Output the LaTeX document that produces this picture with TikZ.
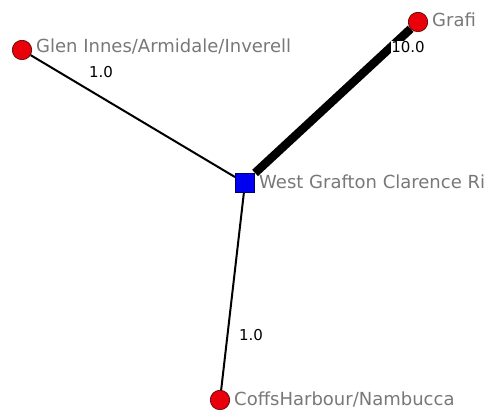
\documentclass[tikz,border=0pt]{standalone}
\usepackage{fontspec}
\setmainfont{DejaVu Sans}
\definecolor{lblgray}{HTML}{787878}
\definecolor{nodered}{HTML}{E8000A}
\definecolor{nodeblue}{HTML}{0000F0}
\tikzset{
  place/.style={circle, fill=nodered, draw=black!70!red, line width=0.6pt, minimum size=19.5pt, inner sep=0pt},
  hub/.style={rectangle, fill=nodeblue, draw=black!60!blue, line width=0.6pt, minimum size=19.5pt, inner sep=0pt},
  lbl/.style={anchor=west, text=lblgray, font=\fontsize{18}{20}\selectfont, inner sep=0pt},
  wlbl/.style={text=black, font=\fontsize{15}{17}\selectfont, inner sep=0pt},
  link/.style={draw=black, line width=2pt}
}
\begin{document}
\begin{tikzpicture}[x=1pt,y=-1pt]
\useasboundingbox (0,0) rectangle (491,411);
\node[place] (glen) at (22,50) {};
\node[place] (graf) at (418,22) {};
\node[hub] (west) at (245,183) {};
\node[place] (coffs) at (220,400) {};
\draw[link] (glen) -- (west);
\draw[link] (west) -- (coffs);
\draw[draw=black, line width=8.5pt] (west.north east) -- (graf);
\node[lbl] (glenl) at (36,47) {Glen Innes/Armidale/Inverell};
\node[lbl] (grafl) at (432,20) {Grafi};
\node[lbl] (westl) at (259,182) {West Grafton Clarence Ri};
\node[lbl] (coffsl) at (234,400) {CoffsHarbour/Nambucca};
\node[wlbl] (w1) at (101,72) {1.0};
\node[wlbl, fill=white, inner sep=0.5pt] (w2) at (408,47) {10.0};
\node[wlbl] (w3) at (251,335) {1.0};
\end{tikzpicture}
\end{document}
